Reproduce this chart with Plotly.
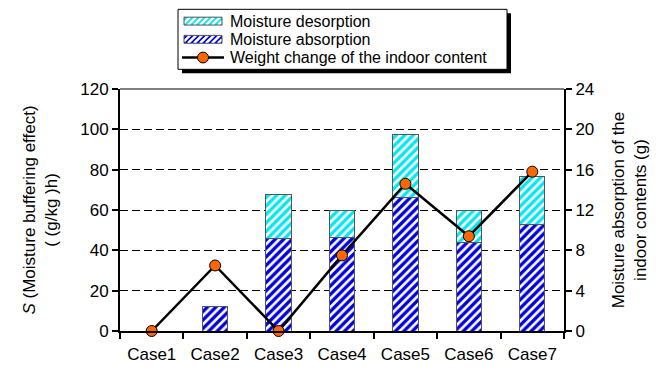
import plotly.graph_objects as go

cases = ["Case1", "Case2", "Case3", "Case4", "Case5", "Case6", "Case7"]
absorption = [None, 12, 46, 46.5, 66, 44, 53]
desorption = [None, None, 21.5, 13.5, 31.5, 16, 23.5]
weight_change = [0, 6.5, 0, 7.5, 14.6, 9.4, 15.8]

left_ticks = [0, 20, 40, 60, 80, 100, 120]
right_ticks = [0, 4, 8, 12, 16, 20, 24]

FONT = "Liberation Sans, Arial, sans-serif"
BLUE = "#0000e0"
CYAN = "#00e8f0"

# the page body has an 8px default margin, so the figure is drawn 8px smaller
OFF = 8
W, H = 664 - OFF, 376 - OFF
ML, MR, MT, MB = 120 - OFF, 100, 89 - OFF, 41
PW, PH = W - ML - MR, H - MT - MB


def px2x(px):
    # px given in page pixels
    return (px - OFF - ML) / PW


def px2y(py):
    return (H - MB - (py - OFF)) / PH


fig = go.Figure()
fig.add_trace(go.Bar(
    x=cases, y=absorption, name="Moisture absorption", width=0.4, showlegend=False,
    marker=dict(color=BLUE, line=dict(color="#555555", width=1),
                pattern=dict(shape="/", bgcolor="white", fgcolor=BLUE, size=6,
                             solidity=0.55, fillmode="replace")),
))
fig.add_trace(go.Bar(
    x=cases, y=desorption, name="Moisture desorption", width=0.4, showlegend=False,
    marker=dict(color=CYAN, line=dict(color="#555555", width=1),
                pattern=dict(shape="/", bgcolor="white", fgcolor=CYAN, size=6,
                             solidity=0.55, fillmode="replace")),
))
fig.add_trace(go.Scatter(
    x=cases, y=weight_change, name="Weight change of the indoor content", yaxis="y2",
    mode="lines+markers", line=dict(color="black", width=2.5), showlegend=False,
    marker=dict(color="#ff6600", size=11, line=dict(color="black", width=1)),
    cliponaxis=False,
))

fig.update_layout(
    width=W, height=H,
    margin=dict(l=ML, r=MR, t=MT, b=MB),
    paper_bgcolor="white", plot_bgcolor="white",
    barmode="stack",
    font=dict(family=FONT, size=17, color="black"),
    showlegend=False,
    xaxis=dict(type="category", showline=True, linecolor="black", linewidth=2,
               ticks="outside", tickson="boundaries", ticklen=6, tickwidth=2,
               tickcolor="black", showgrid=False, tickfont=dict(size=17),
               ticklabelstandoff=7),
    yaxis=dict(range=[0, 120], tickvals=left_ticks, showline=True, linecolor="black",
               linewidth=2, ticks="outside", ticklen=6, tickwidth=2, tickcolor="black",
               showgrid=True, gridcolor="black", griddash="8px,4px", gridwidth=1,
               zeroline=False, tickfont=dict(size=17),
               title=dict(text="<i>S</i> (Moisture buffering effect)<br>( (g/kg )h)",
                          font=dict(size=17), standoff=18)),
    yaxis2=dict(range=[0, 24], tickvals=right_ticks, overlaying="y", side="right",
                showline=True, linecolor="black", linewidth=2, ticks="outside",
                ticklen=6, tickwidth=2, tickcolor="black", showgrid=False,
                zeroline=False, tickfont=dict(size=17),
                title=dict(text="Moisture absorption of the<br>indoor contents (g)",
                           font=dict(size=17), standoff=19)),
)
# top frame line
fig.add_shape(type="line", xref="paper", yref="paper", x0=0, x1=1, y0=1, y1=1,
              line=dict(color="black", width=1))

# ---- manual legend (box with shadow), page-pixel positions ----
bx0, bx1, by0, by1 = 178, 507, 8, 69
fig.add_shape(type="rect", xref="paper", yref="paper",
              x0=px2x(bx0 + 4), x1=px2x(bx1 + 4), y0=px2y(by1 + 4), y1=px2y(by0 + 4),
              fillcolor="black", line=dict(width=0))
fig.add_shape(type="rect", xref="paper", yref="paper",
              x0=px2x(bx0), x1=px2x(bx1), y0=px2y(by1), y1=px2y(by0),
              fillcolor="white", line=dict(color="black", width=1))


def swatch(x0, x1, y0, y1, color):
    fig.add_shape(type="rect", xref="paper", yref="paper",
                  x0=px2x(x0), x1=px2x(x1), y0=px2y(y1), y1=px2y(y0),
                  fillcolor=color, line=dict(width=0))
    h = y1 - y0
    path = ""
    c = x0 - h
    while c < x1:
        t0 = max(0, x0 - c)
        t1 = min(h, x1 - c)
        if t1 > t0:
            xa, ya = c + t0, y1 - t0
            xb, yb = c + t1, y1 - t1
            path += f"M{px2x(xa)},{px2y(ya)} L{px2x(xb)},{px2y(yb)} "
        c += 6
    fig.add_shape(type="path", xref="paper", yref="paper", path=path,
                  line=dict(color="white", width=2.5))
    fig.add_shape(type="rect", xref="paper", yref="paper",
                  x0=px2x(x0), x1=px2x(x1), y0=px2y(y1), y1=px2y(y0),
                  fillcolor="rgba(0,0,0,0)", line=dict(color="#555555", width=1))


sx0, sx1, tx = 184, 222, 229
rows = [20, 38.5, 57]
swatch(sx0, sx1, rows[0] - 4, rows[0] + 4, CYAN)
swatch(sx0, sx1, rows[1] - 4, rows[1] + 4, BLUE)
fig.add_shape(type="line", xref="paper", yref="paper",
              x0=px2x(sx0 - 2), x1=px2x(sx1 + 2), y0=px2y(rows[2]), y1=px2y(rows[2]),
              line=dict(color="black", width=2.5))
fig.add_shape(type="circle", xref="paper", yref="paper",
              x0=px2x(203 - 5.5), x1=px2x(203 + 5.5), y0=px2y(rows[2] + 5.5), y1=px2y(rows[2] - 5.5),
              fillcolor="#ff6600", line=dict(color="black", width=1))
for name, ry in zip(["Moisture desorption", "Moisture absorption",
                     "Weight change of the indoor content"], rows):
    fig.add_annotation(xref="paper", yref="paper", x=px2x(tx), y=px2y(ry),
                       text=name, showarrow=False, xanchor="left", yanchor="middle",
                       font=dict(size=16), borderpad=0)

fig.write_html("out.html")
